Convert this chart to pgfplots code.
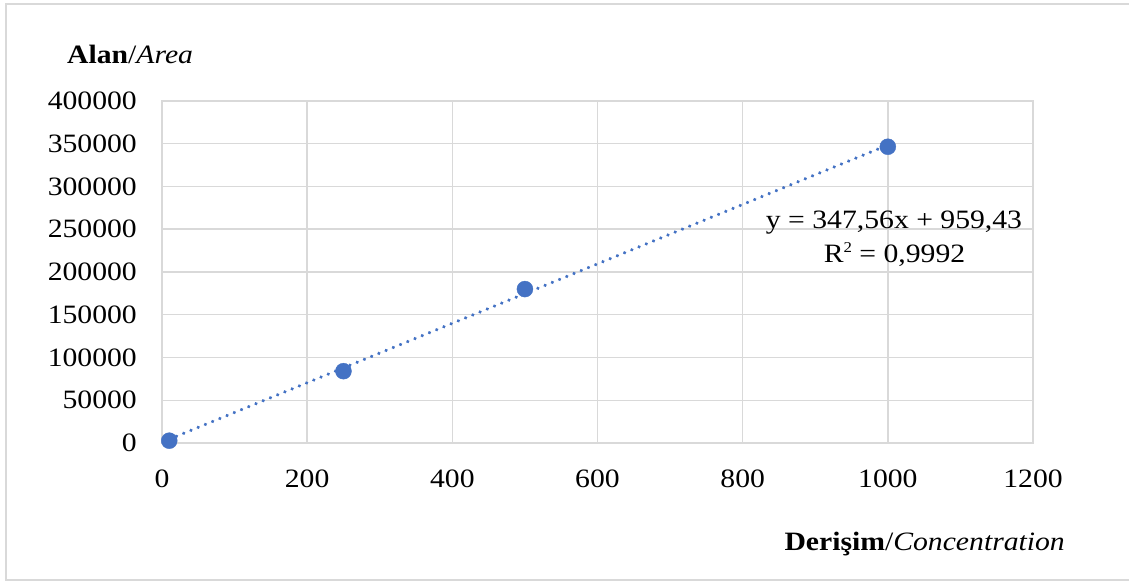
\documentclass[border=0pt]{standalone}
\usepackage{fontspec}
\setmainfont{Liberation Serif}[FakeStretch=1.12]
\usepackage{pgfplots}
\pgfplotsset{compat=1.18}
\definecolor{gridgray}{HTML}{D9D9D9}
\definecolor{excelblue}{HTML}{4472C4}
\begin{document}
\fontsize{26.5}{31}\selectfont
\begin{tikzpicture}
\useasboundingbox (0,0) rectangle (1129pt,581pt);
\fill[white] (0,0) rectangle (1129pt,581pt);
\draw[gridgray, line width=2pt] (6pt,1pt) rectangle (1140pt,577pt);
\begin{axis}[
  at={(162pt,138pt)}, anchor=south west,
  scale only axis, width=871pt, height=342pt,
  xmin=0, xmax=1200, ymin=0, ymax=400000,
  xtick={0,200,...,1200},
  ytick={0,50000,...,400000},
  scaled y ticks=false, scaled x ticks=false,
  grid=major,
  grid style={draw=gridgray, line width=1.5pt},
  axis line style={draw=gridgray, line width=1.5pt},
  major tick length=0pt,
  /pgf/number format/assume math mode=true,
  /pgf/number format/1000 sep={},
  /pgf/number format/fixed,
  yticklabel style={anchor=east, inner sep=0pt, xshift=-25pt, font=\fontsize{26.5}{31}\selectfont},
  xticklabel style={anchor=north, inner sep=0pt, yshift=-27pt, font=\fontsize{26.5}{31}\selectfont},
  clip=false,
]
\addplot[excelblue, line width=3.6pt, line cap=round, dash pattern=on 0.01pt off 7.8pt]
  coordinates {(10,4435) (1000,348519)};
\addplot[only marks, mark=*, mark size=8pt, mark options={fill=excelblue, draw=excelblue}]
  coordinates {(10,2700) (250,84000) (500,180000) (1000,346500)};
\end{axis}
\node[anchor=base west, inner sep=0pt] at (67pt,517pt) {\textbf{Alan}/\textit{Area}};
\node[anchor=base east, inner sep=0pt] at (1065pt,31pt) {\textbf{Derişim}/\textit{Concentration}};
\node[anchor=base, inner sep=0pt] at (894pt,352.7pt) {y = 347,56x + 959,43};
\node[anchor=base, inner sep=0pt] at (894.5pt,318.3pt) {R\raisebox{0.4em}{\fontsize{15}{15}\selectfont 2} = 0,9992};
\end{tikzpicture}
\end{document}
